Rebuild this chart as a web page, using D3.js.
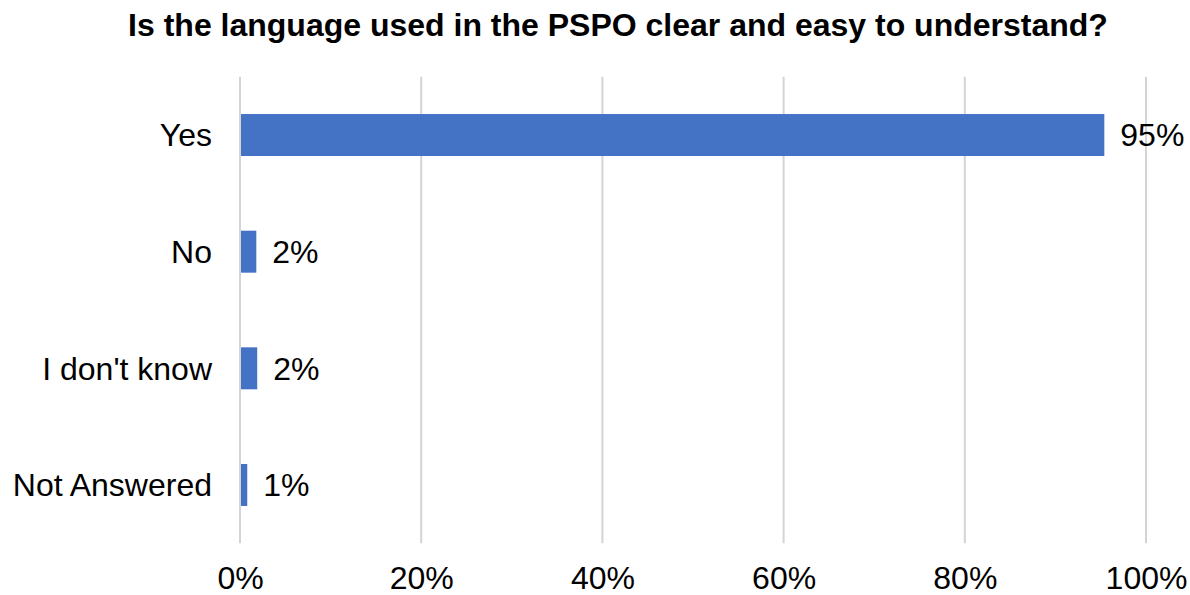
<!DOCTYPE html>
<html>
<head>
<meta charset="utf-8">
<script src="https://cdn.jsdelivr.net/npm/d3@7"></script>
<style>
  html, body { margin: 0; padding: 0; background: #fff; }
  svg { display: block; font-family: "Liberation Sans", Arial, sans-serif; }
</style>
</head>
<body>
<svg id="chart" width="1190" height="595"></svg>
<script>
const title = "Is the language used in the PSPO clear and easy to understand?";
const categories = ["Yes", "No", "I don't know", "Not Answered"];
const values = [0.954, 0.018, 0.019, 0.008];
const xTicks = [0, 0.2, 0.4, 0.6, 0.8, 1.0];

const svg = d3.select("#chart");
const margin = { left: 240, right: 44, top: 76.7, bottom: 51.7 };
const W = 1190, H = 595;
const FS = 32;

const x = d3.scaleLinear().domain([0, 1]).range([margin.left, W - margin.right]);
const y = d3.scaleBand().domain(categories).range([margin.top, H - margin.bottom]).paddingInner(0.64).paddingOuter(0.32);

// title
svg.append("text")
  .attr("x", 618).attr("y", 36)
  .attr("text-anchor", "middle")
  .attr("font-size", FS).attr("font-weight", "bold").attr("fill", "#000")
  .text(title);

// gridlines
svg.append("g").selectAll("line").data(xTicks).join("line")
  .attr("x1", d => x(d)).attr("x2", d => x(d))
  .attr("y1", margin.top).attr("y2", H - margin.bottom)
  .attr("stroke", "#d4d4d4").attr("stroke-width", 2);

// x axis labels
const xAxis = d3.axisBottom(x).tickValues(xTicks).tickFormat(d3.format(".0%")).tickSize(0).tickPadding(0);
const gx = svg.append("g").attr("transform", `translate(0, 589)`).call(xAxis);
gx.select(".domain").remove();
gx.selectAll("text").attr("font-size", FS).attr("fill", "#000")
  .attr("font-family", "Liberation Sans, Arial, sans-serif").attr("dy", "0").attr("y", 0);

// y axis labels
const yAxis = d3.axisLeft(y).tickSize(0).tickPadding(28);
const gy = svg.append("g").attr("transform", `translate(${margin.left}, 0)`).call(yAxis);
gy.select(".domain").remove();
gy.selectAll("text").attr("font-size", FS).attr("fill", "#000")
  .attr("font-family", "Liberation Sans, Arial, sans-serif").attr("dy", "0.35em");

// bars
const data = categories.map((c, i) => ({ c, v: values[i] }));
svg.append("g").selectAll("rect").data(data).join("rect")
  .attr("x", x(0) + 1)
  .attr("y", d => y(d.c))
  .attr("width", d => x(d.v) - x(0) - 1)
  .attr("height", y.bandwidth())
  .attr("fill", "#4472C4");

// value labels
svg.append("g").selectAll("text").data(data).join("text")
  .attr("x", d => x(d.v) + 16)
  .attr("y", d => y(d.c) + y.bandwidth() / 2)
  .attr("dy", "0.35em")
  .attr("font-size", FS).attr("fill", "#000")
  .text(d => d3.format(".0%")(d.v));
</script>
</body>
</html>
